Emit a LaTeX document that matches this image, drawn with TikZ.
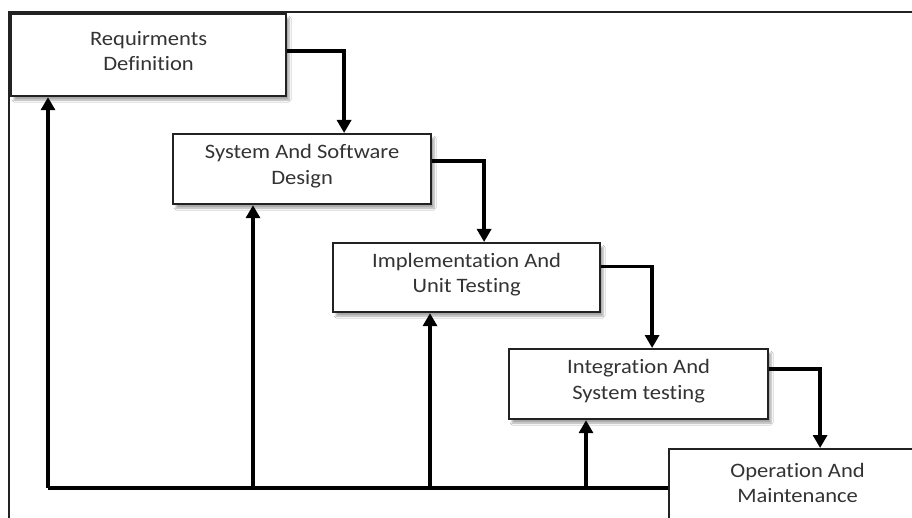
\documentclass[tikz,border=0pt]{standalone}
\usepackage{fontspec}
\setmainfont{Carlito}[FakeStretch=1.1,Ligatures=NoCommon]
\usetikzlibrary{arrows.meta,shadows.blur}
\definecolor{txt}{HTML}{333333}
\definecolor{brd}{HTML}{222222}
\tikzset{
  stagebox/.style={draw=brd, line width=2.2pt, fill=white, anchor=north west,
    inner sep=0pt,
    blur shadow={shadow xshift=3pt, shadow yshift=-4pt, shadow blur steps=6, shadow opacity=35}},
  stagetext/.style={align=center, text=txt, font=\fontsize{20.5}{25.5}\selectfont, inner sep=0pt},
  flow/.style={draw=black, line width=3.4pt,
    -{Triangle[width=14pt,length=13pt]}},
  plain/.style={draw=black, line width=3.4pt},
  frame/.style={draw=brd, line width=1.6pt}
}
\begin{document}
\begin{tikzpicture}[x=1pt,y=-1pt]
\useasboundingbox (0,0) rectangle (912,518);
\fill[white] (0,0) rectangle (912,518);
% outer frame
\coordinate (ftl) at (9,12);
\coordinate (ftr) at (930,12);
\coordinate (fbl) at (9,530);
\draw[frame] (ftr) -- (ftl) -- (fbl);
% stages
\node[stagebox, minimum width=275, minimum height=82,
  label={[stagetext, yshift=4pt]center:Requirments\\Definition}] (b1) at (10,13) {};
\node[stagebox, minimum width=258, minimum height=70,
  label={[stagetext, yshift=3pt]center:System And Software\\Design}] (b2) at (172,133) {};
\node[stagebox, minimum width=267, minimum height=69,
  label={[stagetext, yshift=3pt]center:Implementation And\\Unit Testing}] (b3) at (332,242) {};
\node[stagebox, minimum width=259, minimum height=70,
  label={[stagetext, yshift=3pt]center:Integration And\\System testing}] (b4) at (508,348) {};
\node[stagebox, minimum width=257, minimum height=70,
  label={[stagetext, yshift=1pt]center:Operation And\\Maintenance}] (b5) at (668,448) {};
% forward flow
\draw[flow] ([yshift=4pt]b1.east) -| ([xshift=42pt]b2.north);
\draw[flow] ([yshift=8pt]b2.east) -| ([xshift=17.5pt]b3.north);
\draw[flow] ([yshift=11pt]b3.east) -| ([xshift=13.5pt]b4.north);
\draw[flow] ([yshift=15pt]b4.east) -| ([xshift=22.5pt]b5.north);
% feedback
\coordinate (r1) at (48,488);
\coordinate (r2) at (253,488);
\coordinate (r3) at (430,488);
\coordinate (r4) at (586,488);
\draw[plain] (r1) -- (r1 -| b5.west);
\draw[flow] (r1) -- (r1 |- b1.south);
\draw[flow] (r2) -- (r2 |- b2.south);
\draw[flow] (r3) -- (r3 |- b3.south);
\draw[flow] (r4) -- (r4 |- b4.south);
\end{tikzpicture}
\end{document}
